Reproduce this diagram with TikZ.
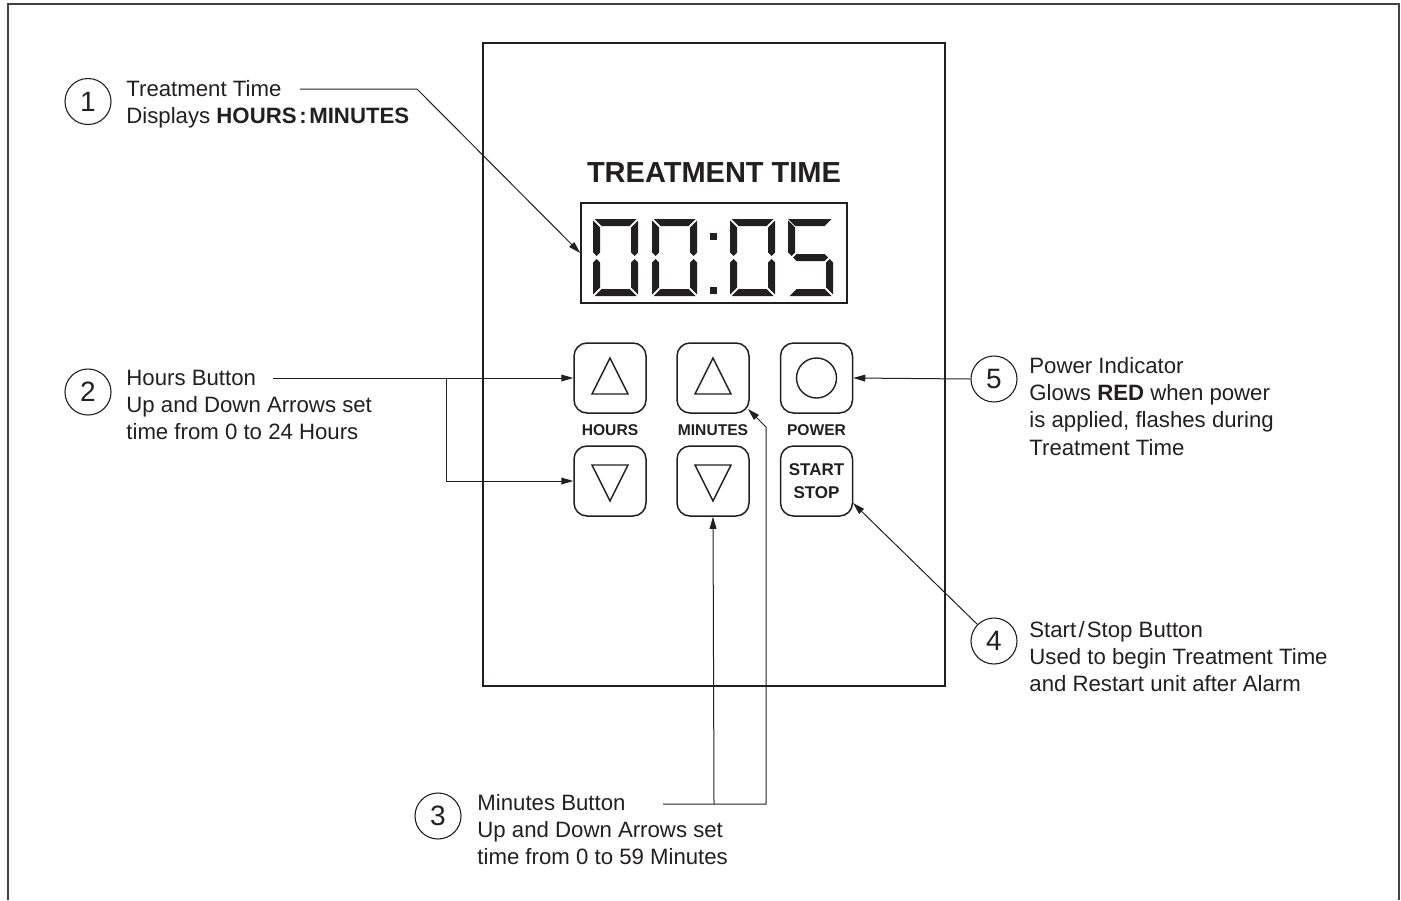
\documentclass[tikz,border=0pt]{standalone}
\usepackage{fontspec}
\setmainfont{Liberation Sans}
\usetikzlibrary{arrows.meta}
\definecolor{ink}{HTML}{231F20}
% seven segment pieces (w=45,h=77,t=7,g=1.5, m=38.5)
\newcommand\SgA{\fill[ink] (1.5,0) -- (43.5,0) -- (36.5,7) -- (8.5,7) -- cycle;}
\newcommand\SgB{\fill[ink] (45,1.5) -- (38,8.5) -- (38,33.5) -- (41.5,37) -- (45,33.5) -- cycle;}
\newcommand\SgC{\fill[ink] (45,43.5) -- (41.5,40) -- (38,43.5) -- (38,68.5) -- (45,75.5) -- cycle;}
\newcommand\SgD{\fill[ink] (1.5,77) -- (43.5,77) -- (36.5,70) -- (8.5,70) -- cycle;}
\newcommand\SgE{\fill[ink] (0,43.5) -- (3.5,40) -- (7,43.5) -- (7,68.5) -- (0,75.5) -- cycle;}
\newcommand\SgF{\fill[ink] (0,1.5) -- (7,8.5) -- (7,33.5) -- (3.5,37) -- (0,33.5) -- cycle;}
\newcommand\SgG{\fill[ink] (5,38.5) -- (8.5,35) -- (36.5,35) -- (40,38.5) -- (36.5,42) -- (8.5,42) -- cycle;}
\newcommand\DigZero{\SgA\SgB\SgC\SgD\SgE\SgF}
\newcommand\DigFive{\fill[ink] (0,0) -- (43.5,0) -- (36.5,7) -- (7,7) -- cycle;\SgF\SgG\SgC\SgD}
\begin{document}
\begin{tikzpicture}[x=0.5pt,y=-0.5pt,
  line join=miter,
  lbl/.style={font=\fontsize{11.1}{13.7}\selectfont, align=left, anchor=base west, inner sep=0pt, text=ink},
  num/.style={circle, draw=ink, line width=0.55pt, minimum size=23pt, inner sep=0pt, font=\fontsize{14}{14}\selectfont, text=ink},
  btn/.style={draw=ink, line width=0.75pt, rounded corners=6.5pt, minimum width=36pt, minimum height=35pt, inner sep=0pt},
  blbl/.style={font=\bfseries\fontsize{7.8}{9}\selectfont, text=ink, inner sep=0pt, anchor=base},
  lead/.style={draw=ink, line width=0.5pt},
  arr/.style={lead, -{Triangle[length=6pt,width=3.4pt]}}
]
\useasboundingbox (0,0) rectangle (1401,900);
% outer frame
\draw[ink!85, line width=0.8pt] (8,900) -- (8,4) -- (1399,4) -- (1399,900);
% panel
\node[draw=ink, line width=0.7pt, minimum width=231pt, minimum height=321.5pt, inner sep=0pt] (panel) at (714,364.5) {};
\node[font=\bfseries\fontsize{14.5}{16}\selectfont, text=ink, inner sep=0pt, anchor=base] (title) at (714,182) {TREATMENT TIME};
% display
\node[draw=ink, line width=0.8pt, minimum width=133pt, minimum height=50pt, inner sep=0pt] (disp) at (714,253) {};
\begin{scope}[shift={(593,219)}]\DigZero\end{scope}
\begin{scope}[shift={(652,219)}]\DigZero\end{scope}
\begin{scope}[shift={(730,219)}]\DigZero\end{scope}
\begin{scope}[shift={(788,219)}]\DigFive\end{scope}
\fill[ink] (710,233) rectangle (717,240);
\fill[ink] (710,287) rectangle (717,294);
% buttons
\node[btn] (hu) at (610,378) {};
\node[btn] (hd) at (610,481) {};
\node[btn] (mu) at (713,378) {};
\node[btn] (md) at (713,481) {};
\node[btn] (pw) at (816.5,378) {};
\node[btn, font=\bfseries\fontsize{8.5}{11.75}\selectfont, text=ink, align=center] (ss) at (816.5,481) {START\\STOP};
\draw[ink, line width=0.7pt] (hu.center) ++(0,-20) -- ++(18,36) -- ++(-36,0) -- cycle;
\draw[ink, line width=0.7pt] (mu.center) ++(0,-20) -- ++(18,36) -- ++(-36,0) -- cycle;
\draw[ink, line width=0.7pt] (hd.center) ++(0,20) -- ++(18,-36) -- ++(-36,0) -- cycle;
\draw[ink, line width=0.7pt] (md.center) ++(0,20) -- ++(18,-36) -- ++(-36,0) -- cycle;
\draw[ink, line width=0.7pt] (pw.center) circle[radius=20];
\node[blbl] (lh) at (610,435) {HOURS};
\node[blbl] (lm) at (713,435) {MINUTES};
\node[blbl] (lp) at (816.5,435) {POWER};
% callout circles
\node[num] (c1) at (88,101.5) {1};
\node[num] (c2) at (88,392) {2};
\node[num] (c3) at (438,816) {3};
\node[num] (c4) at (994,641) {4};
\node[num] (c5) at (994,379) {5};
% texts (anchored at the baseline of the last line)
\node[lbl] (t1) at (126,123.4) {Treatment Time\\Displays \textbf{HOURS\kern0.12em:\kern0.12em MINUTES}};
\node[lbl] (t2) at (126,439.8) {Hours Button\\Up and Down Arrows set\\time from 0 to 24 Hours};
\node[lbl] (t3) at (477,864.8) {Minutes Button\\Up and Down Arrows set\\time from 0 to 59 Minutes};
\node[lbl] (t4) at (1029,691.8) {Start\kern0.1em/\kern0.1em Stop Button\\Used to begin Treatment Time\\and Restart unit after Alarm};
\node[lbl] (t5) at (1029,455.2) {Power Indicator\\Glows \textbf{RED} when power\\is applied, flashes during\\Treatment Time};
% leaders
\coordinate (k1a) at (300,89);
\coordinate (k1b) at (417,89);
\draw[arr] (k1a) -- (k1b) -- (disp.west);
\coordinate (k2a) at (273,378);
\coordinate (k2b) at (446,378);
\draw[arr] (k2a) -- (hu.west);
\draw[arr] (k2b) |- (hd.west);
\coordinate (k3a) at (663,804);
\coordinate (k3b) at (714,804);
\coordinate (k3c) at (766,804);
\coordinate (k3d) at (766,427);
\coordinate (k3e) at (748,409);
\draw[arr] (k3a) -- (k3c) -- (k3d) -- (k3e);
\draw[arr] (k3b) -- (md.south);
\draw[arr] (c5.west) -- (pw.east);
\coordinate (k4e) at (853,503);
\draw[arr] (c4.north west) -- (k4e);
\end{tikzpicture}
\end{document}
